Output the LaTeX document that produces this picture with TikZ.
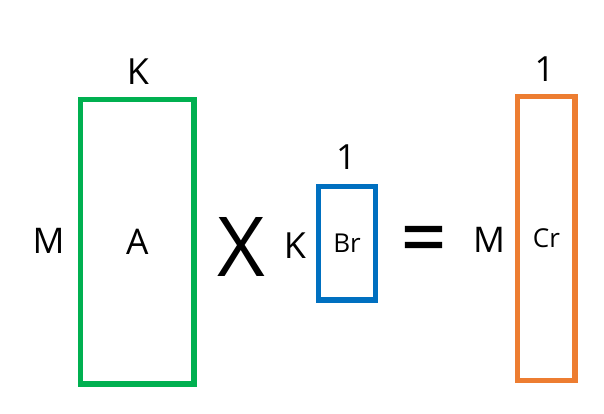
\documentclass[tikz,border=0pt]{standalone}
\usepackage{fontspec}
\setmainfont{Open Sans}
\newfontfamily\eqfont[FakeBold=1.2]{Open Sans}
\definecolor{mgreen}{HTML}{00B050}
\definecolor{mblue}{HTML}{0070C0}
\definecolor{morange}{HTML}{ED7D31}
\newcommand{\fs}[1]{\fontsize{#1}{#1}\selectfont}
\tikzset{
  mat/.style={draw=#1, line width=4pt, inner sep=0pt, fill=none},
  lbl/.style={inner sep=0pt, text=black}
}
\begin{document}
\begin{tikzpicture}[x=0.75pt,y=-0.75pt]
\useasboundingbox[fill=white] (0,0) rectangle (604,414);
% matrices
\node[mat=mgreen, minimum width=85pt, minimum height=213.4pt, font=\fs{26.5}] (A) at (137.4,241.8) {A};
\node[mat=mblue, minimum width=42.5pt, minimum height=85pt, font=\fs{19.5}] (B) at (347,243.4) {Br};
\node[mat=morange, minimum width=43pt, minimum height=213pt, font=\fs{19.5}] (C) at (546.4,238.7) {Cr};
% dimension labels
\node[lbl, font=\fs{27}] (kA) at (138,71.5) {K};
\node[lbl, font=\fs{26.5}] (mA) at (48.5,240.8) {M};
\node[lbl, font=\fs{27}] (kB) at (295,245.8) {K};
\node[lbl, font=\fs{26}] (oneB) at (346,156.8) {1};
\node[lbl, font=\fs{26.5}] (mC) at (489,239.5) {M};
\node[lbl, font=\fs{26}] (oneC) at (544.5,69) {1};
% operators
\node[lbl, font=\fs{62}] (times) at (241,247) {X};
\node[lbl, font=\eqfont\fs{60}] (eq) at (423.5,245.8) {=};
\end{tikzpicture}
\end{document}
